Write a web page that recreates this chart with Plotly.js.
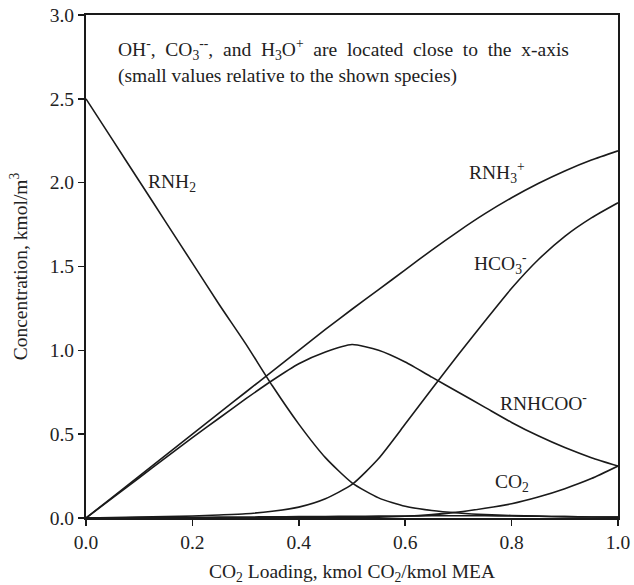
<!DOCTYPE html>
<html>
<head>
<meta charset="utf-8">
<script src="https://cdn.plot.ly/plotly-3.0.1.min.js"></script>
<style>html,body{margin:0;padding:0;background:#fff;}#chart{width:634px;height:585px;}</style>
</head>
<body>
<div id="chart"></div>
<script>
// CO2 loading (kmol CO2/kmol MEA)
const loading = [0, 0.05, 0.1, 0.15, 0.2, 0.25, 0.3, 0.35, 0.4, 0.45, 0.5, 0.55, 0.6, 0.65, 0.7, 0.75, 0.8, 0.85, 0.9, 0.95, 1.0];
// Concentrations, kmol/m3
const rnh2    = [2.5, 2.255, 2.01, 1.765, 1.52, 1.275, 1.04, 0.79, 0.56, 0.36, 0.21, 0.12, 0.07, 0.045, 0.03, 0.02, 0.015, 0.011, 0.008, 0.006, 0.005];
const rnh3    = [0, 0.125, 0.25, 0.375, 0.5, 0.625, 0.75, 0.875, 1.0, 1.125, 1.245, 1.362, 1.48, 1.598, 1.71, 1.815, 1.91, 1.995, 2.07, 2.135, 2.19];
const rnhcoo  = [0, 0.12, 0.24, 0.36, 0.48, 0.595, 0.71, 0.82, 0.92, 0.99, 1.035, 1.0, 0.93, 0.84, 0.75, 0.66, 0.57, 0.49, 0.42, 0.36, 0.31];
const hco3    = [0, 0.002, 0.005, 0.008, 0.012, 0.018, 0.025, 0.04, 0.065, 0.115, 0.2, 0.355, 0.56, 0.77, 0.975, 1.175, 1.37, 1.54, 1.68, 1.79, 1.88];
const co2     = [0, 0, 0, 0, 0, 0, 0.001, 0.001, 0.001, 0.002, 0.002, 0.005, 0.01, 0.02, 0.035, 0.058, 0.085, 0.125, 0.175, 0.235, 0.31];
const co3     = [0, 0.001, 0.002, 0.003, 0.004, 0.005, 0.006, 0.007, 0.008, 0.009, 0.01, 0.011, 0.012, 0.013, 0.013, 0.013, 0.012, 0.01, 0.008, 0.006, 0.005];

const seriesNames = ['RNH2', 'RNH3+', 'RNHCOO-', 'HCO3-', 'CO2', 'CO3--'];
const seriesData = [rnh2, rnh3, rnhcoo, hco3, co2, co3];

// Curve labels
const labelText = ['RNH<sub>2</sub>', 'RNH<sub>3</sub><sup>+</sup>', 'HCO<sub>3</sub><sup>-</sup>', 'RNHCOO<sup>-</sup>', 'CO<sub>2</sub>'];
const labelX = [0.162, 0.772, 0.78, 0.86, 0.80];
const labelY = [2.0, 2.06, 1.52, 0.69, 0.21];

const noteText = 'OH<sup>-</sup>, &nbsp;CO<sub>3</sub><sup>--</sup>, &nbsp;and &nbsp;H<sub>3</sub>O<sup>+</sup> &nbsp;are &nbsp;located &nbsp;close &nbsp;to &nbsp;the &nbsp;x-axis<br>(small values relative to the shown species)';
const xTicks = [0, 0.2, 0.4, 0.6, 0.8, 1.0];
const yTicks = [0, 0.5, 1.0, 1.5, 2.0, 2.5, 3.0];

const font = 'Liberation Serif, Times New Roman, serif';
const fs = 19.5;

const traces = seriesData.map((d, i) => ({
  x: loading, y: d, type: 'scatter', mode: 'lines', name: seriesNames[i],
  line: {color: '#1a1a1a', width: 1.6, shape: 'spline', smoothing: 0.6},
  hoverinfo: 'skip'
}));

const annotations = labelText.map((t, i) => ({
  x: labelX[i], y: labelY[i], xref: 'x', yref: 'y', text: t, showarrow: false,
  font: {family: font, size: fs, color: '#222'}
}));
annotations.push({
  x: 0.056, y: 2.72, xref: 'x', yref: 'y', text: noteText, showarrow: false,
  xanchor: 'left', align: 'left', font: {family: font, size: 19.5, color: '#222'}
});

const layout = {
  width: 634, height: 585,
  margin: {l: 86, r: 16, t: 15, b: 67},
  paper_bgcolor: '#fff', plot_bgcolor: '#fff',
  showlegend: false,
  font: {family: font, size: fs, color: '#222'},
  xaxis: {
    range: [0, 1.0], tickvals: xTicks, tickformat: '.1f',
    showgrid: false, zeroline: false,
    showline: true, mirror: true, linecolor: '#1a1a1a', linewidth: 2,
    ticks: 'outside', ticklen: 6, tickwidth: 1.5, tickcolor: '#1a1a1a',
    tickfont: {family: font, size: fs, color: '#222'},
    title: {text: 'CO<sub>2</sub> Loading, kmol CO<sub>2</sub>/kmol MEA', font: {family: font, size: fs, color: '#222'}, standoff: 12}
  },
  yaxis: {
    range: [0, 3.0], tickvals: yTicks, tickformat: '.1f',
    showgrid: false, zeroline: false,
    showline: true, mirror: true, linecolor: '#1a1a1a', linewidth: 2,
    ticks: 'outside', ticklen: 6, tickwidth: 1.5, tickcolor: '#1a1a1a',
    tickfont: {family: font, size: fs, color: '#222'},
    title: {text: 'Concentration, kmol/m<sup>3</sup>', font: {family: font, size: fs, color: '#222'}, standoff: 17}
  },
  annotations: annotations
};

Plotly.newPlot('chart', traces, layout, {staticPlot: true, displayModeBar: false});
</script>
</body>
</html>
